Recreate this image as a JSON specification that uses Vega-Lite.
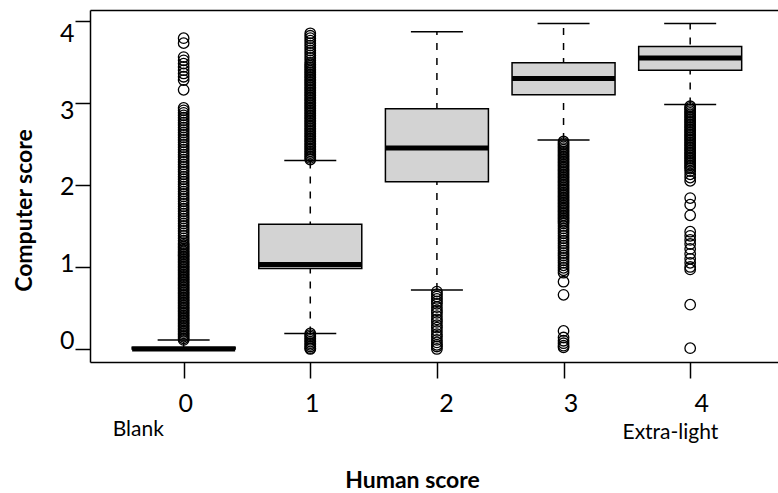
{
  "$schema": "https://vega.github.io/schema/vega-lite/v6.json",
  "width": 688,
  "height": 352,
  "autosize": {"type": "none"},
  "padding": {"left": 90, "top": 10, "right": 0, "bottom": 131},
  "background": "white",
  "config": {"view": {"stroke": null}, "font": "Lato"},
  "datasets": {
    "boxes": [
      {"human": 0, "lo": 0, "q1": 0, "median": 0, "q3": 0.02, "hi": 0.11},
      {"human": 1, "lo": 0.19, "q1": 0.98, "median": 1.03, "q3": 1.52, "hi": 2.30},
      {"human": 2, "lo": 0.72, "q1": 2.04, "median": 2.45, "q3": 2.93, "hi": 3.87},
      {"human": 3, "lo": 2.55, "q1": 3.10, "median": 3.30, "q3": 3.49, "hi": 3.97},
      {"human": 4, "lo": 2.98, "q1": 3.40, "median": 3.55, "q3": 3.69, "hi": 3.97}
    ],
    "notes": [
      {"human": -0.358, "computer": -0.99, "note": "Blank"},
      {"human": 3.844, "computer": -1.02, "note": "Extra-light"}
    ],
    "outliers": [
      {"human":0,"computer":3.79},{"human":0,"computer":3.73},{"human":0,"computer":3.56},{"human":0,"computer":3.52},{"human":0,"computer":3.48},{"human":0,"computer":3.44},{"human":0,"computer":3.40},{"human":0,"computer":3.36},{"human":0,"computer":3.32},{"human":0,"computer":3.28},{"human":0,"computer":3.16},
      {"human":0,"computer":2.94},{"human":0,"computer":2.91},{"human":0,"computer":2.88},{"human":0,"computer":2.85},{"human":0,"computer":2.82},{"human":0,"computer":2.79},{"human":0,"computer":2.76},{"human":0,"computer":2.73},{"human":0,"computer":2.70},{"human":0,"computer":2.67},{"human":0,"computer":2.64},{"human":0,"computer":2.61},{"human":0,"computer":2.58},{"human":0,"computer":2.55},{"human":0,"computer":2.52},{"human":0,"computer":2.49},{"human":0,"computer":2.46},{"human":0,"computer":2.43},{"human":0,"computer":2.40},{"human":0,"computer":2.37},{"human":0,"computer":2.34},{"human":0,"computer":2.31},{"human":0,"computer":2.28},{"human":0,"computer":2.25},{"human":0,"computer":2.22},{"human":0,"computer":2.19},{"human":0,"computer":2.16},{"human":0,"computer":2.13},{"human":0,"computer":2.10},{"human":0,"computer":2.07},{"human":0,"computer":2.04},{"human":0,"computer":2.01},{"human":0,"computer":1.98},{"human":0,"computer":1.95},{"human":0,"computer":1.92},{"human":0,"computer":1.89},{"human":0,"computer":1.86},{"human":0,"computer":1.83},{"human":0,"computer":1.80},{"human":0,"computer":1.77},{"human":0,"computer":1.74},{"human":0,"computer":1.71},{"human":0,"computer":1.68},{"human":0,"computer":1.65},{"human":0,"computer":1.62},{"human":0,"computer":1.59},{"human":0,"computer":1.56},{"human":0,"computer":1.53},{"human":0,"computer":1.50},{"human":0,"computer":1.47},{"human":0,"computer":1.44},{"human":0,"computer":1.41},{"human":0,"computer":1.38},{"human":0,"computer":1.35},{"human":0,"computer":1.32},{"human":0,"computer":1.29},
      {"human":0,"computer":1.27},{"human":0,"computer":1.25},{"human":0,"computer":1.23},{"human":0,"computer":1.21},{"human":0,"computer":1.19},{"human":0,"computer":1.17},{"human":0,"computer":1.15},{"human":0,"computer":1.13},{"human":0,"computer":1.11},{"human":0,"computer":1.09},{"human":0,"computer":1.07},{"human":0,"computer":1.05},{"human":0,"computer":1.03},{"human":0,"computer":1.01},{"human":0,"computer":0.99},{"human":0,"computer":0.97},{"human":0,"computer":0.95},{"human":0,"computer":0.93},{"human":0,"computer":0.91},{"human":0,"computer":0.89},{"human":0,"computer":0.87},{"human":0,"computer":0.85},{"human":0,"computer":0.83},{"human":0,"computer":0.81},{"human":0,"computer":0.79},{"human":0,"computer":0.77},{"human":0,"computer":0.75},{"human":0,"computer":0.73},{"human":0,"computer":0.71},{"human":0,"computer":0.69},{"human":0,"computer":0.67},{"human":0,"computer":0.65},{"human":0,"computer":0.63},{"human":0,"computer":0.61},{"human":0,"computer":0.59},{"human":0,"computer":0.57},{"human":0,"computer":0.55},{"human":0,"computer":0.53},{"human":0,"computer":0.51},{"human":0,"computer":0.49},{"human":0,"computer":0.47},{"human":0,"computer":0.45},{"human":0,"computer":0.43},{"human":0,"computer":0.41},{"human":0,"computer":0.39},{"human":0,"computer":0.37},{"human":0,"computer":0.35},{"human":0,"computer":0.33},{"human":0,"computer":0.31},{"human":0,"computer":0.29},{"human":0,"computer":0.27},{"human":0,"computer":0.25},{"human":0,"computer":0.23},{"human":0,"computer":0.21},{"human":0,"computer":0.19},{"human":0,"computer":0.17},{"human":0,"computer":0.15},{"human":0,"computer":0.13},{"human":0,"computer":0.11},
      {"human":1,"computer":3.85},{"human":1,"computer":3.82},{"human":1,"computer":3.79},{"human":1,"computer":3.76},{"human":1,"computer":3.73},{"human":1,"computer":3.70},{"human":1,"computer":3.67},{"human":1,"computer":3.64},{"human":1,"computer":3.61},{"human":1,"computer":3.58},{"human":1,"computer":3.55},{"human":1,"computer":3.52},{"human":1,"computer":3.49},
      {"human":1,"computer":3.47},{"human":1,"computer":3.45},{"human":1,"computer":3.43},{"human":1,"computer":3.41},{"human":1,"computer":3.39},{"human":1,"computer":3.37},{"human":1,"computer":3.35},{"human":1,"computer":3.33},{"human":1,"computer":3.31},{"human":1,"computer":3.29},{"human":1,"computer":3.27},{"human":1,"computer":3.25},{"human":1,"computer":3.23},{"human":1,"computer":3.21},{"human":1,"computer":3.19},{"human":1,"computer":3.17},{"human":1,"computer":3.15},{"human":1,"computer":3.13},{"human":1,"computer":3.11},{"human":1,"computer":3.09},{"human":1,"computer":3.07},{"human":1,"computer":3.05},{"human":1,"computer":3.03},{"human":1,"computer":3.01},{"human":1,"computer":2.99},{"human":1,"computer":2.97},{"human":1,"computer":2.95},{"human":1,"computer":2.93},{"human":1,"computer":2.91},{"human":1,"computer":2.89},{"human":1,"computer":2.87},{"human":1,"computer":2.85},{"human":1,"computer":2.83},{"human":1,"computer":2.81},{"human":1,"computer":2.79},{"human":1,"computer":2.77},{"human":1,"computer":2.75},{"human":1,"computer":2.73},{"human":1,"computer":2.71},{"human":1,"computer":2.69},{"human":1,"computer":2.67},{"human":1,"computer":2.65},{"human":1,"computer":2.63},{"human":1,"computer":2.61},{"human":1,"computer":2.59},{"human":1,"computer":2.57},{"human":1,"computer":2.55},{"human":1,"computer":2.53},{"human":1,"computer":2.51},{"human":1,"computer":2.49},{"human":1,"computer":2.47},{"human":1,"computer":2.45},{"human":1,"computer":2.43},{"human":1,"computer":2.41},{"human":1,"computer":2.39},{"human":1,"computer":2.37},{"human":1,"computer":2.35},{"human":1,"computer":2.33},{"human":1,"computer":2.31},
      {"human":1,"computer":0.19},{"human":1,"computer":0.17},{"human":1,"computer":0.15},{"human":1,"computer":0.13},{"human":1,"computer":0.11},{"human":1,"computer":0.09},{"human":1,"computer":0.07},{"human":1,"computer":0.05},{"human":1,"computer":0.03},{"human":1,"computer":0.01},{"human":1,"computer":0.0},
      {"human":2,"computer":0.70},{"human":2,"computer":0.67},{"human":2,"computer":0.64},{"human":2,"computer":0.61},{"human":2,"computer":0.58},{"human":2,"computer":0.55},{"human":2,"computer":0.51},{"human":2,"computer":0.47},{"human":2,"computer":0.44},{"human":2,"computer":0.40},{"human":2,"computer":0.36},{"human":2,"computer":0.33},{"human":2,"computer":0.29},{"human":2,"computer":0.26},{"human":2,"computer":0.22},{"human":2,"computer":0.18},{"human":2,"computer":0.15},{"human":2,"computer":0.11},{"human":2,"computer":0.08},{"human":2,"computer":0.05},{"human":2,"computer":0.03},{"human":2,"computer":0.0},
      {"human":3,"computer":2.53},{"human":3,"computer":2.51},{"human":3,"computer":2.49},{"human":3,"computer":2.47},{"human":3,"computer":2.45},{"human":3,"computer":2.43},{"human":3,"computer":2.41},{"human":3,"computer":2.39},{"human":3,"computer":2.37},{"human":3,"computer":2.35},{"human":3,"computer":2.33},{"human":3,"computer":2.31},{"human":3,"computer":2.29},{"human":3,"computer":2.27},{"human":3,"computer":2.25},{"human":3,"computer":2.23},{"human":3,"computer":2.21},{"human":3,"computer":2.19},{"human":3,"computer":2.17},{"human":3,"computer":2.15},{"human":3,"computer":2.13},{"human":3,"computer":2.11},{"human":3,"computer":2.09},{"human":3,"computer":2.07},{"human":3,"computer":2.05},{"human":3,"computer":2.03},{"human":3,"computer":2.01},{"human":3,"computer":1.99},{"human":3,"computer":1.97},{"human":3,"computer":1.95},{"human":3,"computer":1.93},{"human":3,"computer":1.91},{"human":3,"computer":1.89},{"human":3,"computer":1.87},{"human":3,"computer":1.85},{"human":3,"computer":1.83},{"human":3,"computer":1.81},{"human":3,"computer":1.79},{"human":3,"computer":1.77},{"human":3,"computer":1.75},{"human":3,"computer":1.73},{"human":3,"computer":1.71},{"human":3,"computer":1.69},{"human":3,"computer":1.67},{"human":3,"computer":1.65},{"human":3,"computer":1.63},{"human":3,"computer":1.61},{"human":3,"computer":1.59},{"human":3,"computer":1.57},{"human":3,"computer":1.55},{"human":3,"computer":1.53},
      {"human":3,"computer":1.50},{"human":3,"computer":1.47},{"human":3,"computer":1.44},{"human":3,"computer":1.41},{"human":3,"computer":1.38},{"human":3,"computer":1.35},{"human":3,"computer":1.32},{"human":3,"computer":1.29},{"human":3,"computer":1.26},{"human":3,"computer":1.23},{"human":3,"computer":1.20},{"human":3,"computer":1.17},{"human":3,"computer":1.14},{"human":3,"computer":1.11},{"human":3,"computer":1.08},{"human":3,"computer":1.05},{"human":3,"computer":1.02},{"human":3,"computer":0.99},{"human":3,"computer":0.96},{"human":3,"computer":0.93},
      {"human":3,"computer":0.82},{"human":3,"computer":0.66},{"human":3,"computer":0.22},{"human":3,"computer":0.14},{"human":3,"computer":0.10},{"human":3,"computer":0.07},{"human":3,"computer":0.04},{"human":3,"computer":0.02},
      {"human":4,"computer":2.96},{"human":4,"computer":2.94},{"human":4,"computer":2.92},{"human":4,"computer":2.90},{"human":4,"computer":2.88},{"human":4,"computer":2.86},{"human":4,"computer":2.84},{"human":4,"computer":2.82},{"human":4,"computer":2.80},{"human":4,"computer":2.78},{"human":4,"computer":2.76},{"human":4,"computer":2.74},{"human":4,"computer":2.72},{"human":4,"computer":2.70},{"human":4,"computer":2.68},{"human":4,"computer":2.66},{"human":4,"computer":2.64},{"human":4,"computer":2.62},{"human":4,"computer":2.60},{"human":4,"computer":2.58},{"human":4,"computer":2.56},{"human":4,"computer":2.54},{"human":4,"computer":2.52},{"human":4,"computer":2.50},{"human":4,"computer":2.48},{"human":4,"computer":2.46},{"human":4,"computer":2.44},{"human":4,"computer":2.42},{"human":4,"computer":2.40},{"human":4,"computer":2.38},{"human":4,"computer":2.36},{"human":4,"computer":2.34},{"human":4,"computer":2.32},{"human":4,"computer":2.30},{"human":4,"computer":2.28},{"human":4,"computer":2.26},{"human":4,"computer":2.24},{"human":4,"computer":2.22},{"human":4,"computer":2.20},
      {"human":4,"computer":2.17},{"human":4,"computer":2.13},{"human":4,"computer":2.09},{"human":4,"computer":2.05},{"human":4,"computer":1.84},{"human":4,"computer":1.76},{"human":4,"computer":1.63},
      {"human":4,"computer":1.43},{"human":4,"computer":1.38},{"human":4,"computer":1.33},{"human":4,"computer":1.28},{"human":4,"computer":1.22},{"human":4,"computer":1.16},{"human":4,"computer":1.10},{"human":4,"computer":1.05},{"human":4,"computer":1.00},{"human":4,"computer":0.97},{"human":4,"computer":0.54},{"human":4,"computer":0.01}
    ]
  },
  "layer": [
    {
      "data": {"name": "boxes"},
      "mark": {"type": "rule", "color": "black", "strokeWidth": 1.5, "strokeDash": [7, 8]},
      "encoding": {
        "x": {"field": "human", "type": "quantitative",
          "scale": {"domain": [-0.7, 4.654], "nice": false, "zero": false},
          "axis": {
            "title": "Human score", "values": [0, 1, 2, 3, 4], "grid": false,
            "domainColor": "black", "domainWidth": 1.5,
            "tickColor": "black", "tickWidth": 1.5, "tickSize": 16,
            "labelFont": "Lato", "labelFontSize": 25, "labelColor": "black", "labelPadding": 13,
            "labelOffset": {"expr": "datum.value == 2 ? 9 : datum.value == 3 ? 7 : datum.value == 4 ? 11 : 1.5"},
            "titleFont": "Lato", "titleFontSize": 23, "titleFontWeight": "bold", "titleColor": "black",
            "titleX": 322, "titleY": 118, "titleAlign": "center", "titleBaseline": "middle"
          }},
        "y": {"field": "lo", "type": "quantitative",
          "scale": {"domain": [-0.159, 4.134], "nice": false, "zero": false},
          "axis": {
            "title": "Computer score", "values": [0, 1, 2, 3, 4], "grid": false,
            "domainColor": "black", "domainWidth": 1.5,
            "tickColor": "black", "tickWidth": 1.5, "tickSize": 15,
            "labelFont": "Lato", "labelFontSize": 25, "labelColor": "black", "labelPadding": 1,
            "labelOffset": {"expr": "(datum.value - 2) * 5.2 + 2"},
            "titleFont": "Lato", "titleFontSize": 23, "titleFontWeight": "bold", "titleColor": "black",
            "titleX": -66, "titleY": 200, "titleAngle": -90, "titleAlign": "center", "titleBaseline": "middle"
          }},
        "y2": {"field": "hi"}
      }
    },
    {
      "data": {"name": "boxes"},
      "mark": {"type": "tick", "orient": "horizontal", "size": 52, "thickness": 1.5, "color": "black", "opacity": 1},
      "encoding": {
        "x": {"field": "human", "type": "quantitative", "scale": {"domain": [-0.7, 4.654], "nice": false, "zero": false}, "axis": null},
        "y": {"field": "lo", "type": "quantitative", "scale": {"domain": [-0.159, 4.134], "nice": false, "zero": false}, "axis": null}
      }
    },
    {
      "data": {"name": "boxes"},
      "mark": {"type": "tick", "orient": "horizontal", "size": 52, "thickness": 1.5, "color": "black", "opacity": 1},
      "encoding": {
        "x": {"field": "human", "type": "quantitative", "scale": {"domain": [-0.7, 4.654], "nice": false, "zero": false}, "axis": null},
        "y": {"field": "hi", "type": "quantitative", "scale": {"domain": [-0.159, 4.134], "nice": false, "zero": false}, "axis": null}
      }
    },
    {
      "data": {"name": "boxes"},
      "mark": {"type": "bar", "width": 103, "fill": "#d3d3d3", "stroke": "black", "strokeWidth": 1.5, "opacity": 1},
      "encoding": {
        "x": {"field": "human", "type": "quantitative", "scale": {"domain": [-0.7, 4.654], "nice": false, "zero": false}, "axis": null},
        "y": {"field": "q1", "type": "quantitative", "scale": {"domain": [-0.159, 4.134], "nice": false, "zero": false}, "axis": null},
        "y2": {"field": "q3"}
      }
    },
    {
      "data": {"name": "boxes"},
      "mark": {"type": "tick", "orient": "horizontal", "size": 103, "thickness": 5, "color": "black", "opacity": 1},
      "encoding": {
        "x": {"field": "human", "type": "quantitative", "scale": {"domain": [-0.7, 4.654], "nice": false, "zero": false}, "axis": null},
        "y": {"field": "median", "type": "quantitative", "scale": {"domain": [-0.159, 4.134], "nice": false, "zero": false}, "axis": null}
      }
    },
    {
      "data": {"name": "outliers"},
      "mark": {"type": "point", "shape": "circle", "filled": false, "stroke": "black", "strokeWidth": 1.3, "size": 110, "opacity": 1},
      "encoding": {
        "x": {"field": "human", "type": "quantitative", "scale": {"domain": [-0.7, 4.654], "nice": false, "zero": false},
          "axis": {"orient": "top", "labels": false, "ticks": false, "grid": false, "domain": true, "domainColor": "black", "domainWidth": 1.5, "title": null}},
        "y": {"field": "computer", "type": "quantitative", "scale": {"domain": [-0.159, 4.134], "nice": false, "zero": false}, "axis": null}
      }
    },
    {
      "data": {"name": "notes"},
      "mark": {"type": "text", "font": "Lato", "fontSize": 21, "color": "black", "align": "center", "baseline": "middle"},
      "encoding": {
        "x": {"field": "human", "type": "quantitative", "scale": {"domain": [-0.7, 4.654], "nice": false, "zero": false}, "axis": null},
        "y": {"field": "computer", "type": "quantitative", "scale": {"domain": [-0.159, 4.134], "nice": false, "zero": false}, "axis": null},
        "text": {"field": "note"}
      }
    }
  ],
  "resolve": {"axis": {"x": "independent", "y": "independent"}}
}
